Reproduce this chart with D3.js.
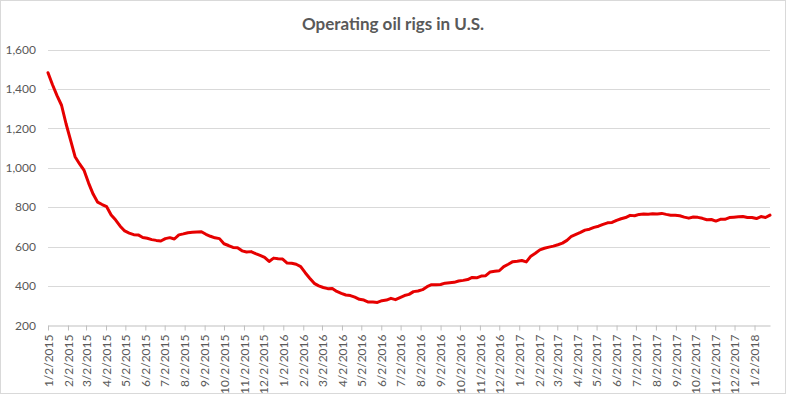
<!DOCTYPE html>
<html><head><meta charset="utf-8">
<script src="https://cdn.jsdelivr.net/npm/d3@7"></script>
<style>html,body{margin:0;padding:0;background:#fff}svg{display:block}</style>
</head><body>
<svg id="chart" width="786" height="394"></svg>
<script>
const title = "Operating oil rigs in U.S.";
const startDate = "2015-01-02";
const endDate = "2018-01-26";
const yTicks = [200, 400, 600, 800, 1000, 1200, 1400, 1600];
// weekly operating oil rig counts
const rigs2015 = [1482,1421,1366,1317,1223,1140,1056,1019,986,922,866,825,813,802,760,734,703,679,668,660,659,646,642,635,631,628,640,645,638,659,664,670,672,674,675,662,652,644,640,614,605,595,594,578,572,574,564,555,545,524,541,538,536];
const rigs2016 = [516,515,510,498,467,439,413,400,392,386,387,372,362,354,351,343,332,328,318,318,316,325,328,337,330,341,351,357,371,374,381,396,406,406,407,414,416,418,425,428,432,443,441,450,452,471,474,477,498,510,523,525];
const rigs2017 = [529,522,551,566,583,591,597,602,609,617,631,652,662,672,683,688,697,703,712,720,722,733,741,747,758,756,763,765,764,766,765,768,763,759,759,756,749,744,750,748,743,736,737,729,738,738,747,749,751,752,747,747];
const rigs2018 = [742,752,747,759];

(function () {
const values = [].concat(rigs2015, rigs2016, rigs2017, rigs2018);
const parse = d3.timeParse("%Y-%m-%d");
const t0 = parse(startDate), t1 = parse(endDate);
const data = values.map((v, i) => ({date: d3.timeDay.offset(t0, 7 * i), value: v}));

const svg = d3.select("#chart");
const W = 786, H = 394;
const mLeft = 48, mRight = 770, mTop = 49.5, mBottom = 325.3;

svg.append("rect").attr("x", 0.5).attr("y", 0.5).attr("width", W - 1).attr("height", H - 1)
  .attr("fill", "#fff").attr("stroke", "#d9d9d9");

const x = d3.scaleTime().domain([t0, t1]).range([mLeft, mRight]);
const y = d3.scaleLinear().domain([200, 1600]).range([mBottom, mTop]);

svg.append("g").selectAll("line").data(yTicks.filter(d => d > 200)).join("line")
  .attr("x1", mLeft).attr("x2", mRight)
  .attr("y1", d => Math.round(y(d)) + 0.5).attr("y2", d => Math.round(y(d)) + 0.5)
  .attr("stroke", "#d9d9d9").attr("stroke-width", 1);

const yAxis = d3.axisLeft(y).tickValues(yTicks).tickFormat(d3.format(",")).tickSize(0).tickPadding(12);
const gy = svg.append("g").attr("transform", `translate(${mLeft},0)`).call(yAxis);
gy.select(".domain").remove();
gy.selectAll("text").attr("fill", "#595959").style("font-family", "Lato, 'Liberation Sans', sans-serif").style("font-size", "12px");

const monthTicks = d3.timeMonth.every(1).range(d3.timeDay.offset(t0, -1), t1).map(d => d3.timeDay.offset(d, 1));
const xAxis = d3.axisBottom(x).tickValues(monthTicks).tickFormat(d3.timeFormat("%-m/%-d/%Y")).tickSizeInner(5).tickSizeOuter(0).tickPadding(5);
const gx = svg.append("g").attr("transform", `translate(0,${Math.round(mBottom) + 0.5})`).call(xAxis);
gx.select(".domain").attr("stroke", "#bfbfbf");
gx.selectAll(".tick line").attr("stroke", "#bfbfbf");
gx.selectAll("text")
  .attr("fill", "#595959")
  .style("font-family", "Lato, 'Liberation Sans', sans-serif").style("font-size", "12px")
  .attr("text-anchor", "end")
  .attr("transform", "rotate(-90)")
  .attr("x", -9).attr("y", 0).attr("dy", "0.35em");

const line = d3.line().x(d => x(d.date)).y(d => y(d.value)).curve(d3.curveLinear);
svg.append("path").datum(data).attr("d", line)
  .attr("fill", "none").attr("stroke", "#e60000").attr("stroke-width", 3)
  .attr("stroke-linejoin", "round").attr("stroke-linecap", "round");

svg.append("text").attr("x", 393).attr("y", 30).attr("text-anchor", "middle")
  .attr("fill", "#595959").style("font-family", "Lato, 'Liberation Sans', sans-serif")
  .style("font-size", "17px").style("font-weight", "bold").text(title);
})();
</script>
</body></html>
